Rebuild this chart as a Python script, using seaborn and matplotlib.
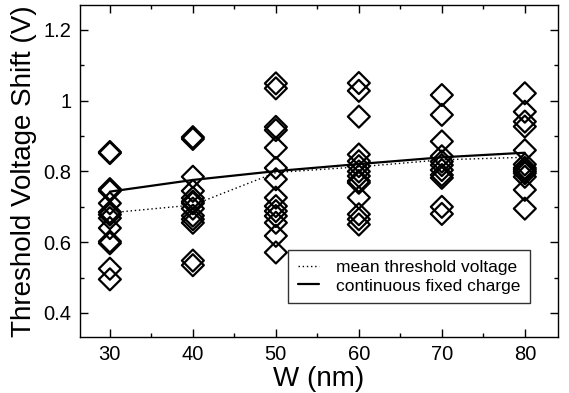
import numpy as np
import pandas as pd
import seaborn as sns
import matplotlib
matplotlib.use("Agg")
import matplotlib.pyplot as plt
from matplotlib.ticker import MultipleLocator, FormatStrFormatter


# threshold voltage shift of each sample (V), grouped by width W (nm)
v30 = [0.855, 0.852, 0.75, 0.745, 0.71, 0.685, 0.678, 0.668, 0.64, 0.602, 0.597, 0.525, 0.495]
v40 = [0.897, 0.892, 0.785, 0.745, 0.725, 0.715, 0.71, 0.695, 0.675, 0.665, 0.655, 0.548, 0.535]
v50 = [1.049, 1.035, 0.926, 0.917, 0.867, 0.81, 0.778, 0.726, 0.702, 0.688, 0.674, 0.655, 0.618, 0.571]
v60 = [1.05, 1.028, 0.955, 0.848, 0.829, 0.815, 0.80, 0.787, 0.773, 0.768, 0.726, 0.679, 0.665, 0.65]
v70 = [1.016, 0.96, 0.885, 0.843, 0.828, 0.818, 0.804, 0.79, 0.782, 0.70, 0.68]
v80 = [1.021, 0.969, 0.941, 0.927, 0.86, 0.82, 0.81, 0.805, 0.80, 0.795, 0.785, 0.748, 0.695]

widths = [30, 40, 50, 60, 70, 80]
mean_vt = [0.683, 0.705, 0.797, 0.813, 0.833, 0.840]
fixed_charge = [0.743, 0.776, 0.801, 0.821, 0.840, 0.853]

samples = pd.DataFrame({
    "W": np.repeat(widths, [len(v) for v in (v30, v40, v50, v60, v70, v80)]),
    "dVt": v30 + v40 + v50 + v60 + v70 + v80,
})
lines = pd.DataFrame({"W": widths, "mean": mean_vt, "fixed": fixed_charge})

sns.set_theme(style="ticks")
plt.rcParams["font.family"] = ["Liberation Sans", "DejaVu Sans"]
plt.rcParams["text.color"] = "black"
plt.rcParams["axes.labelcolor"] = "black"

fig = plt.figure(figsize=(5.69, 3.93), dpi=100)
ax = fig.add_axes([0.1406, 0.1425, 0.8401, 0.846])

sns.scatterplot(data=samples, x="W", y="dVt", marker="D", s=125,
                facecolors="none", edgecolor="black", linewidth=1.6,
                legend=False, ax=ax)
sns.lineplot(data=lines, x="W", y="mean", color="black", linestyle=(0, (1, 2)),
             linewidth=1.0, label="mean threshold voltage", ax=ax)
sns.lineplot(data=lines, x="W", y="fixed", color="black", linewidth=1.6,
             label="continuous fixed charge", ax=ax)

ax.set_xlim(26.4, 84)
ax.set_ylim(0.332, 1.272)
ax.xaxis.set_major_locator(MultipleLocator(10))
ax.xaxis.set_minor_locator(MultipleLocator(5))
ax.yaxis.set_major_locator(MultipleLocator(0.2))
ax.yaxis.set_minor_locator(MultipleLocator(0.1))
ax.yaxis.set_major_formatter(FormatStrFormatter("%g"))

ax.tick_params(which="both", direction="in", top=True, right=True,
               colors="black", labelsize=14.5, width=1)
ax.tick_params(which="major", length=6, pad=6)
ax.tick_params(which="minor", length=3)
for sp in ax.spines.values():
    sp.set_color("black")
    sp.set_linewidth(1)

ax.set_xlabel("W (nm)", fontsize=20, labelpad=1)
ax.set_ylabel("Threshold Voltage Shift (V)", fontsize=20, labelpad=5)

leg = ax.legend(loc="lower right", bbox_to_anchor=(0.941, 0.102), borderaxespad=0,
                fontsize=12.5, frameon=True, fancybox=False, handlelength=1.2,
                handletextpad=1.0, borderpad=0.55, labelspacing=0.2)
leg.get_frame().set_edgecolor("black")
leg.get_frame().set_linewidth(1)

fig.savefig("out.png", dpi=100)
